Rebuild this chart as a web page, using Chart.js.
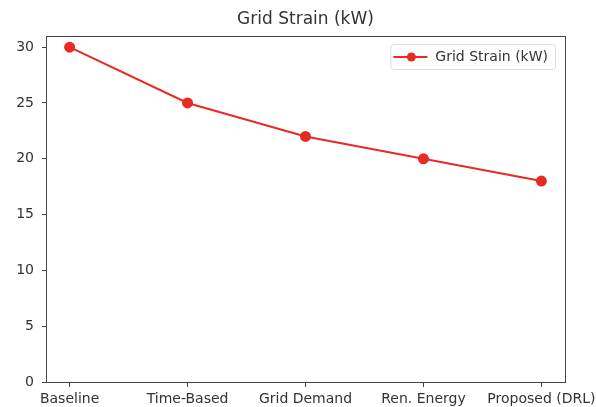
<!DOCTYPE html>
<html>
<head>
<meta charset="utf-8">
<script src="https://cdn.jsdelivr.net/npm/chart.js@4"></script>
<style>
  html, body { margin: 0; padding: 0; background: #fff; }
  #wrap { width: 596px; height: 407px; }
</style>
</head>
<body>
<div id="wrap"><canvas id="strainChart"></canvas></div>
<script>
const categories = ["Baseline", "Time-Based", "Grid Demand", "Ren. Energy", "Proposed (DRL)"]
const strainValues = [30, 25, 22, 20, 18]
const yTicks = [0, 5, 10, 15, 20, 25, 30]
const seriesLabel = "Grid Strain (kW)"
const chartTitle = "Grid Strain (kW)"

const lineRed = "rgb(232,42,36)"
const axisGray = "#444"
const textGray = "#333"

// box round the plot area, like matplotlib spines
const frameBox = {
    id: 'frameBox',
    afterDraw(chart) {
        const { ctx, chartArea: { left, right, top, bottom } } = chart
        ctx.save()
        ctx.strokeStyle = axisGray
        ctx.lineWidth = 1
        ctx.strokeRect(left + 0.5, top + 0.5, right - left, bottom - top)
        ctx.restore()
    }
}

// title centred over the plot area, not the canvas
const plotTitle = {
    id: 'plotTitle',
    afterDraw(chart) {
        const { ctx, chartArea: { left, right, top } } = chart
        ctx.save()
        ctx.font = "17px 'DejaVu Sans'"
        ctx.fillStyle = textGray
        ctx.textAlign = "center"
        ctx.textBaseline = "middle"
        ctx.fillText(chartTitle, (left + right) / 2, top - 16)
        ctx.restore()
    }
}

// legend box in upper right corner
const innerLegend = {
    id: 'innerLegend',
    afterDraw(chart) {
        const { ctx, chartArea: { right, top } } = chart
        const ds = chart.data.datasets[0]
        ctx.save()
        ctx.font = "14px 'DejaVu Sans'"
        const tw = ctx.measureText(ds.label).width
        const w = tw + 52, h = 25
        const x = right - 10 - w, y = top + 8
        ctx.fillStyle = "rgba(255,255,255,0.8)"
        ctx.strokeStyle = "#ddd"
        ctx.lineWidth = 1
        ctx.beginPath()
        ctx.roundRect(x + 0.5, y + 0.5, w, h, 3)
        ctx.fill()
        ctx.stroke()
        const cy = y + h / 2 + 0.5
        ctx.strokeStyle = ds.borderColor
        ctx.lineWidth = 2
        ctx.beginPath()
        ctx.moveTo(x + 3, cy)
        ctx.lineTo(x + 37, cy)
        ctx.stroke()
        ctx.fillStyle = ds.pointBackgroundColor
        ctx.beginPath()
        ctx.arc(x + 21, cy, 4.5, 0, Math.PI * 2)
        ctx.fill()
        ctx.fillStyle = textGray
        ctx.textBaseline = "middle"
        ctx.fillText(ds.label, x + 45, cy)
        ctx.restore()
    }
}

const config = {
    type: "line",
    data: {
        datasets: [
            {
                label: seriesLabel,
                data: strainValues.map((v, i) => ({ x: i, y: v })),
                borderColor: lineRed,
                backgroundColor: lineRed,
                pointBackgroundColor: lineRed,
                pointBorderColor: lineRed,
                borderWidth: 2,
                pointRadius: 4.5,
                tension: 0
            }
        ]
    },
    options: {
        responsive: true,
        maintainAspectRatio: false,
        animation: false,
        layout: { padding: { left: 0, right: 31, top: 36, bottom: 0 } },
        plugins: {
            legend: { display: false },
            tooltip: { enabled: false },
            title: { display: false }
        },
        scales: {
            x: {
                type: "linear",
                min: -0.2,
                max: 4.2,
                afterBuildTicks(scale) {
                    scale.ticks = categories.map((c, i) => ({ value: i }))
                },
                afterFit(scale) {
                    scale.height = 25
                    scale.paddingLeft = 0
                    scale.paddingRight = 0
                },
                grid: { drawOnChartArea: false, drawTicks: true, tickLength: 5, color: axisGray },
                border: { display: false },
                ticks: {
                    color: textGray,
                    padding: 4,
                    maxRotation: 0,
                    autoSkip: false,
                    font: { family: "'DejaVu Sans'", size: 14 },
                    callback: (v) => categories[v]
                }
            },
            y: {
                min: 0,
                max: 31,
                afterBuildTicks(scale) {
                    scale.ticks = yTicks.map(v => ({ value: v }))
                },
                afterFit(scale) { scale.width = 46 },
                grid: { drawOnChartArea: false, drawTicks: true, tickLength: 4, color: axisGray },
                border: { display: false },
                ticks: {
                    color: textGray,
                    padding: 8,
                    font: { family: "'DejaVu Sans'", size: 14 }
                }
            }
        }
    },
    plugins: [frameBox, plotTitle, innerLegend]
}

const strainChart = new Chart(document.getElementById("strainChart"), config)
</script>
</body>
</html>
